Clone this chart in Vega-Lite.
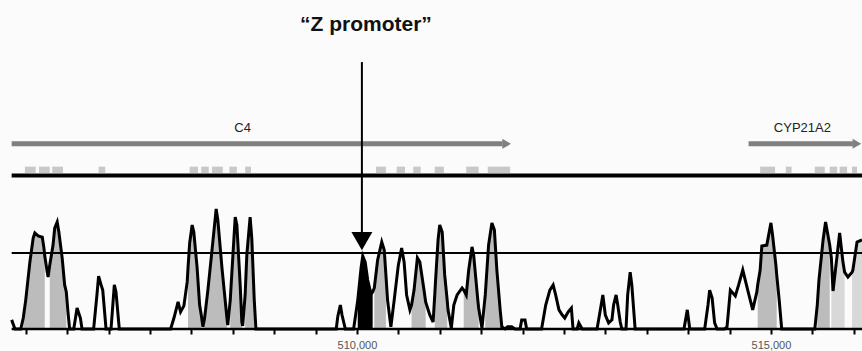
{
  "$schema": "https://vega.github.io/schema/vega-lite/v6.json",
  "width": 852,
  "height": 329,
  "autosize": {"type": "none"},
  "padding": {"left": 10, "top": 0, "right": 0, "bottom": 22},
  "background": "#fbfbfb",
  "config": {"view": {"stroke": null}, "font": "Liberation Sans"},
  "datasets": {
    "curve": [
      {"pos": 505830, "pct": 53.0, "seg": 0},
      {"pos": 505870, "pct": 50.0, "seg": 0},
      {"pos": 505940, "pct": 50.0, "seg": 0},
      {"pos": 505970, "pct": 53.6, "seg": 1, "shade": "g"},
      {"pos": 506000, "pct": 59.5, "seg": 1, "shade": "g"},
      {"pos": 506050, "pct": 72.0, "seg": 1, "shade": "g"},
      {"pos": 506090, "pct": 79.9, "seg": 1, "shade": "g"},
      {"pos": 506110, "pct": 81.6, "seg": 1, "shade": "g"},
      {"pos": 506150, "pct": 80.6, "seg": 1, "shade": "g"},
      {"pos": 506200, "pct": 80.2, "seg": 1, "shade": "g"},
      {"pos": 506220, "pct": 76.6, "seg": 1, "shade": "g"},
      {"pos": 506230, "pct": 74.0, "seg": 1, "shade": "g"},
      {"pos": 506260, "pct": 68.7, "seg": 0},
      {"pos": 506270, "pct": 67.1, "seg": 0},
      {"pos": 506290, "pct": 71.0, "seg": 2, "shade": "g"},
      {"pos": 506330, "pct": 77.6, "seg": 2, "shade": "g"},
      {"pos": 506350, "pct": 83.2, "seg": 2, "shade": "g"},
      {"pos": 506380, "pct": 85.2, "seg": 2, "shade": "g"},
      {"pos": 506400, "pct": 81.9, "seg": 2, "shade": "g"},
      {"pos": 506440, "pct": 73.4, "seg": 2, "shade": "g"},
      {"pos": 506470, "pct": 64.5, "seg": 2, "shade": "g"},
      {"pos": 506490, "pct": 62.2, "seg": 2, "shade": "g"},
      {"pos": 506510, "pct": 55.6, "seg": 0},
      {"pos": 506530, "pct": 50.0, "seg": 0},
      {"pos": 506580, "pct": 50.0, "seg": 0},
      {"pos": 506620, "pct": 56.9, "seg": 0},
      {"pos": 506660, "pct": 53.6, "seg": 0},
      {"pos": 506680, "pct": 50.0, "seg": 0},
      {"pos": 506820, "pct": 50.0, "seg": 0},
      {"pos": 506860, "pct": 61.2, "seg": 0},
      {"pos": 506880, "pct": 67.4, "seg": 0},
      {"pos": 506910, "pct": 64.5, "seg": 0},
      {"pos": 506930, "pct": 62.8, "seg": 0},
      {"pos": 506970, "pct": 50.0, "seg": 0},
      {"pos": 507030, "pct": 50.0, "seg": 0},
      {"pos": 507070, "pct": 64.5, "seg": 0},
      {"pos": 507090, "pct": 62.2, "seg": 0},
      {"pos": 507130, "pct": 50.0, "seg": 0},
      {"pos": 507750, "pct": 50.0, "seg": 0},
      {"pos": 507790, "pct": 53.6, "seg": 0},
      {"pos": 507840, "pct": 58.9, "seg": 0},
      {"pos": 507870, "pct": 55.6, "seg": 0},
      {"pos": 507910, "pct": 57.6, "seg": 0},
      {"pos": 507950, "pct": 65.5, "seg": 0},
      {"pos": 507960, "pct": 70.1, "seg": 3, "shade": "g"},
      {"pos": 507980, "pct": 78.3, "seg": 3, "shade": "g"},
      {"pos": 508010, "pct": 84.2, "seg": 3, "shade": "g"},
      {"pos": 508030, "pct": 81.9, "seg": 3, "shade": "g"},
      {"pos": 508070, "pct": 70.1, "seg": 3, "shade": "g"},
      {"pos": 508100, "pct": 57.9, "seg": 3, "shade": "g"},
      {"pos": 508120, "pct": 54.6, "seg": 3, "shade": "g"},
      {"pos": 508140, "pct": 50.7, "seg": 0},
      {"pos": 508160, "pct": 53.6, "seg": 4, "shade": "g"},
      {"pos": 508200, "pct": 62.8, "seg": 4, "shade": "g"},
      {"pos": 508250, "pct": 76.0, "seg": 4, "shade": "g"},
      {"pos": 508300, "pct": 89.5, "seg": 4, "shade": "g"},
      {"pos": 508320, "pct": 85.9, "seg": 4, "shade": "g"},
      {"pos": 508370, "pct": 70.1, "seg": 4, "shade": "g"},
      {"pos": 508420, "pct": 56.3, "seg": 4, "shade": "g"},
      {"pos": 508430, "pct": 53.6, "seg": 4, "shade": "g"},
      {"pos": 508440, "pct": 51.3, "seg": 0},
      {"pos": 508470, "pct": 59.5, "seg": 5, "shade": "g"},
      {"pos": 508490, "pct": 68.7, "seg": 5, "shade": "g"},
      {"pos": 508530, "pct": 86.8, "seg": 5, "shade": "g"},
      {"pos": 508550, "pct": 84.2, "seg": 5, "shade": "g"},
      {"pos": 508590, "pct": 64.5, "seg": 5, "shade": "g"},
      {"pos": 508610, "pct": 52.3, "seg": 5, "shade": "g"},
      {"pos": 508620, "pct": 51.0, "seg": 0},
      {"pos": 508650, "pct": 61.2, "seg": 6, "shade": "g"},
      {"pos": 508670, "pct": 74.3, "seg": 6, "shade": "g"},
      {"pos": 508710, "pct": 86.8, "seg": 6, "shade": "g"},
      {"pos": 508730, "pct": 79.9, "seg": 6, "shade": "g"},
      {"pos": 508760, "pct": 59.5, "seg": 6, "shade": "g"},
      {"pos": 508780, "pct": 50.0, "seg": 0},
      {"pos": 509750, "pct": 50.0, "seg": 0},
      {"pos": 509770, "pct": 54.3, "seg": 0},
      {"pos": 509800, "pct": 57.9, "seg": 0},
      {"pos": 509820, "pct": 54.6, "seg": 0},
      {"pos": 509860, "pct": 50.0, "seg": 0},
      {"pos": 509960, "pct": 50.0, "seg": 0},
      {"pos": 510010, "pct": 59.5, "seg": 7, "shade": "k"},
      {"pos": 510050, "pct": 70.1, "seg": 7, "shade": "k"},
      {"pos": 510070, "pct": 74.0, "seg": 7, "shade": "k"},
      {"pos": 510100, "pct": 72.0, "seg": 7, "shade": "k"},
      {"pos": 510130, "pct": 66.1, "seg": 7, "shade": "k"},
      {"pos": 510170, "pct": 61.5, "seg": 7, "shade": "k"},
      {"pos": 510190, "pct": 62.2, "seg": 7, "shade": "k"},
      {"pos": 510210, "pct": 63.5, "seg": 8, "shade": "g"},
      {"pos": 510250, "pct": 72.7, "seg": 8, "shade": "g"},
      {"pos": 510300, "pct": 78.6, "seg": 8, "shade": "g"},
      {"pos": 510330, "pct": 76.0, "seg": 8, "shade": "g"},
      {"pos": 510350, "pct": 67.8, "seg": 8, "shade": "g"},
      {"pos": 510370, "pct": 59.5, "seg": 0},
      {"pos": 510410, "pct": 50.7, "seg": 0},
      {"pos": 510450, "pct": 59.5, "seg": 0},
      {"pos": 510500, "pct": 71.0, "seg": 0},
      {"pos": 510540, "pct": 76.6, "seg": 0},
      {"pos": 510570, "pct": 72.0, "seg": 0},
      {"pos": 510600, "pct": 61.2, "seg": 0},
      {"pos": 510640, "pct": 56.3, "seg": 0},
      {"pos": 510660, "pct": 57.9, "seg": 9, "shade": "g"},
      {"pos": 510690, "pct": 62.8, "seg": 9, "shade": "g"},
      {"pos": 510730, "pct": 73.4, "seg": 9, "shade": "g"},
      {"pos": 510760, "pct": 72.0, "seg": 9, "shade": "g"},
      {"pos": 510810, "pct": 62.8, "seg": 9, "shade": "g"},
      {"pos": 510830, "pct": 58.9, "seg": 9, "shade": "g"},
      {"pos": 510880, "pct": 54.6, "seg": 0},
      {"pos": 510920, "pct": 52.3, "seg": 0},
      {"pos": 510940, "pct": 61.2, "seg": 10, "shade": "g"},
      {"pos": 510950, "pct": 66.1, "seg": 10, "shade": "g"},
      {"pos": 510980, "pct": 79.3, "seg": 10, "shade": "g"},
      {"pos": 511000, "pct": 84.2, "seg": 10, "shade": "g"},
      {"pos": 511030, "pct": 81.9, "seg": 10, "shade": "g"},
      {"pos": 511060, "pct": 67.8, "seg": 10, "shade": "g"},
      {"pos": 511090, "pct": 59.5, "seg": 10, "shade": "g"},
      {"pos": 511100, "pct": 56.3, "seg": 0},
      {"pos": 511140, "pct": 50.3, "seg": 0},
      {"pos": 511170, "pct": 57.9, "seg": 0},
      {"pos": 511210, "pct": 61.2, "seg": 0},
      {"pos": 511270, "pct": 63.5, "seg": 0},
      {"pos": 511290, "pct": 62.8, "seg": 11, "shade": "g"},
      {"pos": 511320, "pct": 61.2, "seg": 11, "shade": "g"},
      {"pos": 511350, "pct": 69.4, "seg": 11, "shade": "g"},
      {"pos": 511390, "pct": 77.0, "seg": 11, "shade": "g"},
      {"pos": 511410, "pct": 74.3, "seg": 11, "shade": "g"},
      {"pos": 511460, "pct": 59.5, "seg": 11, "shade": "g"},
      {"pos": 511470, "pct": 56.9, "seg": 11, "shade": "g"},
      {"pos": 511510, "pct": 50.3, "seg": 0},
      {"pos": 511550, "pct": 61.2, "seg": 12, "shade": "g"},
      {"pos": 511590, "pct": 77.6, "seg": 12, "shade": "g"},
      {"pos": 511630, "pct": 84.9, "seg": 12, "shade": "g"},
      {"pos": 511660, "pct": 82.6, "seg": 12, "shade": "g"},
      {"pos": 511690, "pct": 69.4, "seg": 12, "shade": "g"},
      {"pos": 511730, "pct": 56.3, "seg": 12, "shade": "g"},
      {"pos": 511750, "pct": 50.7, "seg": 12, "shade": "g"},
      {"pos": 511790, "pct": 50.0, "seg": 0},
      {"pos": 511820, "pct": 50.7, "seg": 0},
      {"pos": 511870, "pct": 50.7, "seg": 0},
      {"pos": 511910, "pct": 50.0, "seg": 0},
      {"pos": 511970, "pct": 50.0, "seg": 0},
      {"pos": 511990, "pct": 53.0, "seg": 0},
      {"pos": 512030, "pct": 53.0, "seg": 0},
      {"pos": 512050, "pct": 50.0, "seg": 0},
      {"pos": 512230, "pct": 50.0, "seg": 0},
      {"pos": 512280, "pct": 57.9, "seg": 0},
      {"pos": 512330, "pct": 62.8, "seg": 0},
      {"pos": 512370, "pct": 64.5, "seg": 0},
      {"pos": 512400, "pct": 61.2, "seg": 0},
      {"pos": 512440, "pct": 56.3, "seg": 0},
      {"pos": 512480, "pct": 54.6, "seg": 0},
      {"pos": 512510, "pct": 53.6, "seg": 0},
      {"pos": 512550, "pct": 55.6, "seg": 0},
      {"pos": 512590, "pct": 56.9, "seg": 0},
      {"pos": 512610, "pct": 50.0, "seg": 0},
      {"pos": 512660, "pct": 50.0, "seg": 0},
      {"pos": 512680, "pct": 52.0, "seg": 0},
      {"pos": 512720, "pct": 50.0, "seg": 0},
      {"pos": 512900, "pct": 50.0, "seg": 0},
      {"pos": 512940, "pct": 56.3, "seg": 0},
      {"pos": 512970, "pct": 61.2, "seg": 0},
      {"pos": 513000, "pct": 54.6, "seg": 0},
      {"pos": 513040, "pct": 52.0, "seg": 0},
      {"pos": 513080, "pct": 53.0, "seg": 0},
      {"pos": 513100, "pct": 57.9, "seg": 0},
      {"pos": 513130, "pct": 61.2, "seg": 0},
      {"pos": 513150, "pct": 57.9, "seg": 0},
      {"pos": 513180, "pct": 52.3, "seg": 0},
      {"pos": 513200, "pct": 50.0, "seg": 0},
      {"pos": 513250, "pct": 50.0, "seg": 0},
      {"pos": 513270, "pct": 61.2, "seg": 0},
      {"pos": 513300, "pct": 68.7, "seg": 0},
      {"pos": 513320, "pct": 64.5, "seg": 0},
      {"pos": 513360, "pct": 50.0, "seg": 0},
      {"pos": 513950, "pct": 50.0, "seg": 0},
      {"pos": 513990, "pct": 56.3, "seg": 0},
      {"pos": 514020, "pct": 50.0, "seg": 0},
      {"pos": 514200, "pct": 50.0, "seg": 0},
      {"pos": 514240, "pct": 57.9, "seg": 0},
      {"pos": 514260, "pct": 62.8, "seg": 0},
      {"pos": 514290, "pct": 60.2, "seg": 0},
      {"pos": 514320, "pct": 52.0, "seg": 0},
      {"pos": 514350, "pct": 50.0, "seg": 0},
      {"pos": 514440, "pct": 50.0, "seg": 0},
      {"pos": 514470, "pct": 50.7, "seg": 0},
      {"pos": 514510, "pct": 62.8, "seg": 0},
      {"pos": 514570, "pct": 60.9, "seg": 0},
      {"pos": 514610, "pct": 64.5, "seg": 0},
      {"pos": 514660, "pct": 69.4, "seg": 0},
      {"pos": 514720, "pct": 62.8, "seg": 0},
      {"pos": 514780, "pct": 56.3, "seg": 0},
      {"pos": 514830, "pct": 62.2, "seg": 0},
      {"pos": 514840, "pct": 64.5, "seg": 13, "shade": "g"},
      {"pos": 514870, "pct": 69.4, "seg": 13, "shade": "g"},
      {"pos": 514890, "pct": 77.3, "seg": 13, "shade": "g"},
      {"pos": 514950, "pct": 77.6, "seg": 13, "shade": "g"},
      {"pos": 515000, "pct": 84.9, "seg": 13, "shade": "g"},
      {"pos": 515020, "pct": 80.9, "seg": 13, "shade": "g"},
      {"pos": 515060, "pct": 71.0, "seg": 13, "shade": "g"},
      {"pos": 515070, "pct": 67.8, "seg": 13, "shade": "g"},
      {"pos": 515100, "pct": 59.5, "seg": 0},
      {"pos": 515130, "pct": 50.0, "seg": 0},
      {"pos": 515530, "pct": 50.0, "seg": 0},
      {"pos": 515560, "pct": 57.9, "seg": 14, "shade": "g"},
      {"pos": 515580, "pct": 66.1, "seg": 14, "shade": "g"},
      {"pos": 515630, "pct": 79.3, "seg": 14, "shade": "g"},
      {"pos": 515660, "pct": 85.2, "seg": 14, "shade": "g"},
      {"pos": 515710, "pct": 77.6, "seg": 14, "shade": "g"},
      {"pos": 515730, "pct": 73.4, "seg": 15, "shade": "l"},
      {"pos": 515750, "pct": 62.5, "seg": 15, "shade": "l"},
      {"pos": 515800, "pct": 74.3, "seg": 15, "shade": "l"},
      {"pos": 515830, "pct": 81.6, "seg": 15, "shade": "l"},
      {"pos": 515870, "pct": 72.0, "seg": 15, "shade": "l"},
      {"pos": 515890, "pct": 68.7, "seg": 15, "shade": "l"},
      {"pos": 515930, "pct": 67.1, "seg": 0},
      {"pos": 515980, "pct": 68.7, "seg": 16, "shade": "l"},
      {"pos": 515990, "pct": 69.4, "seg": 16, "shade": "l"},
      {"pos": 516040, "pct": 78.6, "seg": 16, "shade": "l"},
      {"pos": 516100, "pct": 79.3, "seg": 16, "shade": "l"}
    ],
    "lines": [
      {"line": "threshold", "start": 505830, "end": 516100, "pct": 75},
      {"line": "baseline", "start": 505830, "end": 516100, "pct": 50}
    ],
    "track": [{"start": 505830, "end": 516100}],
    "genes": [
      {"gene": "C4", "start": 505830, "end": 511760, "label_at": 508620},
      {"gene": "CYP21A2", "start": 514730, "end": 515990, "label_at": 515380}
    ],
    "exons": [
      {"gene": "C4", "start": 505990, "end": 506120},
      {"gene": "C4", "start": 506160, "end": 506290},
      {"gene": "C4", "start": 506320, "end": 506450},
      {"gene": "C4", "start": 506880, "end": 506960},
      {"gene": "C4", "start": 507980, "end": 508080},
      {"gene": "C4", "start": 508120, "end": 508210},
      {"gene": "C4", "start": 508250, "end": 508380},
      {"gene": "C4", "start": 508460, "end": 508550},
      {"gene": "C4", "start": 508650, "end": 508720},
      {"gene": "C4", "start": 510230, "end": 510350},
      {"gene": "C4", "start": 510480, "end": 510580},
      {"gene": "C4", "start": 510680, "end": 510770},
      {"gene": "C4", "start": 510940, "end": 511050},
      {"gene": "C4", "start": 511320, "end": 511470},
      {"gene": "C4", "start": 511580, "end": 511850},
      {"gene": "CYP21A2", "start": 514870, "end": 515050},
      {"gene": "CYP21A2", "start": 515180, "end": 515250},
      {"gene": "CYP21A2", "start": 515530, "end": 515650},
      {"gene": "CYP21A2", "start": 515710, "end": 515800},
      {"gene": "CYP21A2", "start": 515830, "end": 515920},
      {"gene": "CYP21A2", "start": 515980, "end": 516040}
    ],
    "promoter": [{"label": "“Z promoter”", "pos": 510060}]
  },
  "layer": [
    {
      "data": {"name": "curve"},
      "transform": [{"filter": "datum.seg > 0"}],
      "mark": {"type": "area", "interpolate": "linear"},
      "encoding": {
        "x": {"field": "pos", "type": "quantitative", "scale": {"domain": [505810, 516100], "nice": false, "zero": false},
          "axis": {"values": [506000, 506500, 507000, 507500, 508000, 508500, 509000, 509500, 510000, 510500, 511000, 511500, 512000, 512500, 513000, 513500, 514000, 514500, 515000, 515500, 516000],
            "labelExpr": "datum.value % 5000 === 0 ? format(datum.value, ',') : ''",
            "domain": false, "grid": false, "title": null, "ticks": true, "tickSize": 5, "tickWidth": 2, "tickColor": "#000", "tickOpacity": 1,
            "labelFontSize": 11, "labelColor": "#555555", "labelPadding": 5, "labelFont": "Liberation Sans"}},
        "y": {"field": "pct", "type": "quantitative", "scale": {"domain": [50, 158.22], "nice": false, "zero": false}, "axis": null},
        "y2": {"datum": 50},
        "color": {"field": "shade", "type": "nominal", "scale": {"domain": ["g", "l", "k"], "range": ["#bcbcbc", "#d8d8d8", "#000000"]}, "legend": null},
        "detail": {"field": "seg", "type": "nominal"}
      }
    },
    {
      "data": {"name": "curve"},
      "mark": {"type": "line", "color": "#000", "strokeWidth": 3},
      "encoding": {
        "x": {"field": "pos", "type": "quantitative"},
        "y": {"field": "pct", "type": "quantitative"}
      }
    },
    {
      "data": {"name": "lines"},
      "transform": [{"filter": "datum.line === 'threshold'"}],
      "mark": {"type": "rule", "color": "#000", "strokeWidth": 2},
      "encoding": {
        "x": {"field": "start", "type": "quantitative"},
        "x2": {"field": "end"},
        "y": {"field": "pct", "type": "quantitative"}
      }
    },
    {
      "data": {"name": "lines"},
      "transform": [{"filter": "datum.line === 'baseline'"}],
      "mark": {"type": "rule", "color": "#000", "strokeWidth": 2.6},
      "encoding": {
        "x": {"field": "start", "type": "quantitative"},
        "x2": {"field": "end"},
        "y": {"field": "pct", "type": "quantitative"}
      }
    },
    {
      "data": {"name": "track"},
      "mark": {"type": "rule", "color": "#000", "strokeWidth": 4},
      "encoding": {
        "x": {"field": "start", "type": "quantitative"},
        "x2": {"field": "end"},
        "y": {"datum": 100.5}
      }
    },
    {
      "data": {"name": "exons"},
      "mark": {"type": "rect", "color": "#c8c8c8"},
      "encoding": {
        "x": {"field": "start", "type": "quantitative"},
        "x2": {"field": "end"},
        "y": {"datum": 101.3},
        "y2": {"datum": 103.4}
      }
    },
    {
      "data": {"name": "genes"},
      "mark": {"type": "rule", "color": "#808080", "strokeWidth": 5},
      "encoding": {
        "x": {"field": "start", "type": "quantitative"},
        "x2": {"field": "end"},
        "y": {"datum": 110.9}
      }
    },
    {
      "data": {"name": "genes"},
      "mark": {"type": "point", "shape": "triangle-right", "filled": true, "color": "#808080", "opacity": 1, "size": 100, "xOffset": 4},
      "encoding": {
        "x": {"field": "end", "type": "quantitative"},
        "y": {"datum": 110.9}
      }
    },
    {
      "data": {"name": "genes"},
      "mark": {"type": "text", "fontSize": 13, "color": "#222", "baseline": "alphabetic", "align": "center"},
      "encoding": {
        "x": {"field": "label_at", "type": "quantitative"},
        "y": {"datum": 114.8},
        "text": {"field": "gene"}
      }
    },
    {
      "data": {"name": "promoter"},
      "mark": {"type": "rule", "color": "#000", "strokeWidth": 2},
      "encoding": {
        "x": {"field": "pos", "type": "quantitative"},
        "y": {"datum": 137.8},
        "y2": {"datum": 81.5}
      }
    },
    {
      "data": {"name": "promoter"},
      "mark": {"type": "point", "shape": "triangle-down", "filled": true, "color": "#000", "opacity": 1, "size": 441},
      "encoding": {
        "x": {"field": "pos", "type": "quantitative"},
        "y": {"datum": 78.9}
      }
    },
    {
      "data": {"name": "promoter"},
      "mark": {"type": "text", "fontSize": 21, "fontWeight": "bold", "color": "#111", "baseline": "alphabetic", "align": "center", "dx": 4},
      "encoding": {
        "x": {"field": "pos", "type": "quantitative"},
        "y": {"datum": 148.0},
        "text": {"field": "label"}
      }
    }
  ]
}
